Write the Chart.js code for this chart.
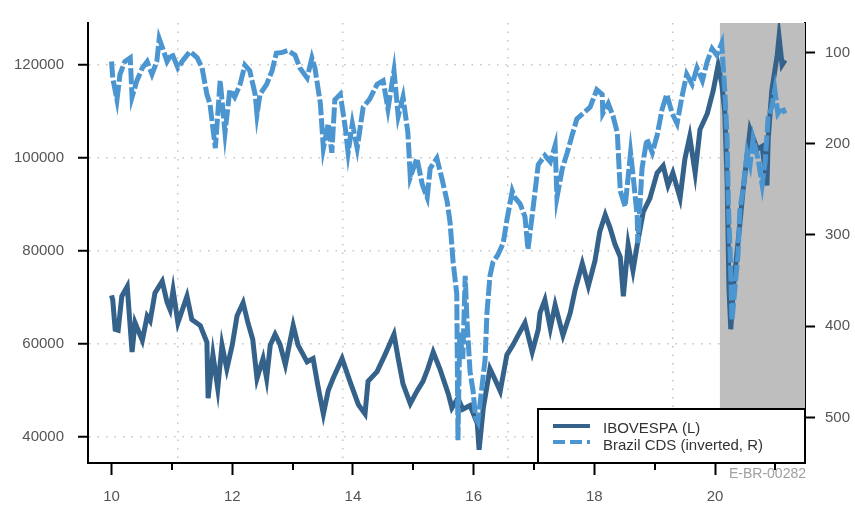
<!DOCTYPE html>
<html>
<head>
<meta charset="utf-8">
<script src="https://cdn.jsdelivr.net/npm/chart.js@4/dist/chart.umd.min.js"></script>
<style>
  html, body { margin: 0; padding: 0; background: #fff; }
  #wrap { width: 855px; height: 505px; position: relative; }
</style>
</head>
<body>
<div id="wrap"><canvas id="chart"></canvas></div>
<script>
// IBOVESPA, left axis (year as fraction, 10 = 2010)
const iboYears = [10.00, 10.02, 10.06, 10.11, 10.17, 10.26, 10.34, 10.39, 10.51, 10.59, 10.64, 10.72, 10.84, 10.92, 10.97,
  11.02, 11.10, 11.25, 11.33, 11.47, 11.58, 11.60, 11.68, 11.76, 11.83, 11.91, 12.00, 12.08, 12.18, 12.26, 12.34, 12.41,
  12.51, 12.57, 12.63, 12.71, 12.79, 12.88, 13.01, 13.09, 13.24, 13.34, 13.42, 13.51, 13.59, 13.67, 13.82, 13.95, 14.09,
  14.20, 14.25, 14.40, 14.53, 14.68, 14.75, 14.83, 14.95, 15.06, 15.16, 15.24, 15.33, 15.44, 15.58, 15.64, 15.74, 15.82,
  15.94, 16.06, 16.09, 16.16, 16.27, 16.35, 16.44, 16.55, 16.65, 16.74, 16.85, 16.97, 17.07, 17.10, 17.18, 17.27, 17.35,
  17.48, 17.60, 17.68, 17.80, 17.90, 18.01, 18.09, 18.18, 18.26, 18.34, 18.43, 18.48, 18.56, 18.64, 18.72, 18.81, 18.92,
  19.04, 19.14, 19.22, 19.30, 19.42, 19.50, 19.58, 19.67, 19.75, 19.87, 19.97, 20.05, 20.11, 20.16, 20.20, 20.23, 20.26,
  20.30, 20.41, 20.46, 20.58, 20.70, 20.78, 20.86, 20.88, 20.94, 21.03, 21.06, 21.11, 21.16];
const iboValues = [70500, 69500, 63200, 63000, 70300, 72400, 58300, 64600, 60800, 66000, 65000, 71000, 73500, 69000, 67400,
  71600, 64600, 70300, 65300, 64000, 60400, 48400, 57700, 50500, 59800, 54700, 59800, 66100, 68900, 64600, 61000, 52600,
  56900, 52600, 59800, 62100, 60000, 55600, 64000, 59800, 56200, 56900, 51000, 45000, 50000, 52600, 56900, 52000, 47000,
  45000, 52000, 54100, 57700, 62100, 56900, 51400, 47200, 49900, 52000, 54700, 58300, 54700, 49300, 46300, 48400, 46000,
  46800, 43000, 37300, 46300, 54700, 52500, 49900, 57700, 59800, 62000, 64600, 58300, 63100, 66700, 69500, 63400, 68400,
  61900, 66700, 71600, 77300, 72500, 77900, 84200, 87800, 85000, 81500, 78700, 70300, 81400, 75800, 82100, 88400, 91300,
  96800, 98300, 94100, 96800, 91400, 99800, 104600, 96800, 106100, 109500, 114500, 119900, 116000, 110000, 95000, 72000, 63200,
  71500, 85700, 92600, 106100, 101900, 102500, 94100, 104000, 114500, 122100, 126000, 120000, 121000];

// Brazil CDS, right axis (inverted)
const cdsYears = [10.00, 10.02, 10.09, 10.14, 10.22, 10.31, 10.34, 10.42, 10.51, 10.59, 10.67, 10.75, 10.79, 10.85, 10.92,
  11.00, 11.10, 11.18, 11.30, 11.42, 11.50, 11.58, 11.63, 11.72, 11.80, 11.88, 11.96, 12.04, 12.13, 12.21, 12.29, 12.38,
  12.41, 12.46, 12.57, 12.66, 12.73, 12.83, 12.92, 13.04, 13.12, 13.24, 13.32, 13.37, 13.46, 13.51, 13.59, 13.65, 13.70,
  13.79, 13.87, 13.92, 13.99, 14.07, 14.17, 14.28, 14.40, 14.50, 14.58, 14.68, 14.75, 14.83, 14.91, 14.95, 15.06, 15.15,
  15.23, 15.28, 15.39, 15.48, 15.56, 15.61, 15.66, 15.72, 15.74, 15.77, 15.82, 15.86, 15.89, 15.94, 15.99, 16.03, 16.07,
  16.14, 16.19, 16.22, 16.27, 16.32, 16.40, 16.49, 16.55, 16.64, 16.68, 16.77, 16.85, 16.90, 16.98, 17.07, 17.18, 17.27,
  17.35, 17.38, 17.47, 17.55, 17.63, 17.71, 17.81, 17.93, 18.04, 18.13, 18.14, 18.23, 18.31, 18.38, 18.43, 18.51, 18.60,
  18.64, 18.71, 18.72, 18.79, 18.87, 18.96, 19.04, 19.12, 19.20, 19.29, 19.37, 19.45, 19.53, 19.62, 19.70, 19.79, 19.87,
  19.95, 20.03, 20.11, 20.16, 20.20, 20.22, 20.25, 20.28, 20.33, 20.38, 20.41, 20.46, 20.53, 20.58, 20.63, 20.71, 20.78,
  20.83, 20.88, 20.94, 20.99, 21.04, 21.11, 21.16];
const cdsValues = [110, 128, 152, 124, 110, 106, 149, 131, 117, 110, 124, 110, 85, 96, 110,
  101, 117, 109, 99, 106, 117, 146, 156, 205, 131, 188, 141, 149, 135, 114, 120, 146,
  168, 146, 135, 120, 101, 100, 98, 103, 117, 128, 106, 117, 156, 205, 178, 210, 152,
  146, 181, 210, 178, 205, 160, 151, 135, 131, 162, 120, 170, 149, 188, 237, 216, 245,
  259, 227, 216, 240, 263, 287, 330, 365, 525, 407, 436, 345, 394, 450, 471, 500, 505,
  465, 436, 386, 345, 330, 322, 309, 284, 252, 259, 266, 280, 316, 273, 223, 213, 220,
  202, 259, 227, 210, 191, 173, 167, 160, 141, 146, 167, 156, 170, 188, 252, 269, 210,
  234, 280, 309, 227, 195, 210, 191, 163, 146, 167, 178, 149, 124, 135, 117, 131, 110,
  96, 103, 90, 141, 195, 266, 319, 394, 358, 322, 273, 252, 210, 223, 195, 216, 245,
  220, 170, 160, 141, 167, 160, 167];

const seriesLabels = ['IBOVESPA (L)', 'Brazil CDS (inverted, R)'];
const leftTicks = [40000, 60000, 80000, 100000, 120000];
const rightTicks = [100, 200, 300, 400, 500];
const xTicks = [10, 11, 12, 13, 14, 15, 16, 17, 18, 19, 20, 21];
const vGridYears = [11.09, 13.83, 16.56, 19.30];
const shadeFrom = 20.08;
const sourceNote = 'E-BR-00282';

const darkBlue = '#34628a';
const lightBlue = '#4b95d0';
const fontFamily = '"Liberation Sans", Arial, sans-serif';
const tickFont = { family: fontFamily, size: 15 };
const tickColor = '#555';
const dotColor = '#c4c4c4';

Chart.defaults.font.family = fontFamily;

const extras = {
  id: 'extras',
  beforeDatasetsDraw(chart) {
    const { ctx, chartArea, scales } = chart;
    const x0 = scales.x.getPixelForValue(shadeFrom);
    ctx.save();
    ctx.fillStyle = '#bebebe';
    ctx.fillRect(x0, chartArea.top, chartArea.right - x0, chartArea.bottom - chartArea.top);
    ctx.restore();
  },
  afterDraw(chart) {
    const { ctx, chartArea, scales } = chart;
    ctx.save();
    // minor ticks on odd years
    ctx.strokeStyle = '#000';
    ctx.lineWidth = 2;
    xTicks.filter(v => v % 2 !== 0).forEach(v => {
      const px = Math.round(scales.x.getPixelForValue(v));
      ctx.beginPath();
      ctx.moveTo(px, chartArea.bottom);
      ctx.lineTo(px, chartArea.bottom + 7);
      ctx.stroke();
    });

    // legend box
    const bw = 267, bh = 54;
    const bx = chartArea.right - bw, by = chartArea.bottom - bh;
    ctx.fillStyle = '#fff';
    ctx.fillRect(bx, by, bw, bh);
    ctx.strokeStyle = '#000';
    ctx.lineWidth = 2;
    ctx.strokeRect(bx, by, bw, bh);

    ctx.lineWidth = 4;
    ctx.strokeStyle = darkBlue;
    ctx.beginPath();
    ctx.moveTo(bx + 15, by + 17);
    ctx.lineTo(bx + 52, by + 17);
    ctx.stroke();
    ctx.strokeStyle = lightBlue;
    ctx.setLineDash([12, 5]);
    ctx.beginPath();
    ctx.moveTo(bx + 15, by + 33);
    ctx.lineTo(bx + 52, by + 33);
    ctx.stroke();
    ctx.setLineDash([]);

    ctx.fillStyle = '#333';
    ctx.font = '15px ' + fontFamily;
    ctx.textAlign = 'left';
    ctx.textBaseline = 'middle';
    ctx.fillText(seriesLabels[0], bx + 65, by + 20);
    ctx.fillText(seriesLabels[1], bx + 65, by + 37);

    // source note
    ctx.fillStyle = '#a0a0a0';
    ctx.font = '14px ' + fontFamily;
    ctx.textAlign = 'right';
    ctx.textBaseline = 'alphabetic';
    ctx.fillText(sourceNote, chartArea.right + 1, chartArea.bottom + 15);
    ctx.restore();
  }
};

new Chart(document.getElementById('chart'), {
  type: 'line',
  data: {
    datasets: [{
      label: seriesLabels[0],
      data: iboYears.map((x, i) => ({ x: x, y: iboValues[i] })),
      xAxisID: 'x',
      yAxisID: 'y',
      borderColor: darkBlue,
      borderWidth: 5,
      pointRadius: 0,
      tension: 0,
      order: 1
    }, {
      label: seriesLabels[1],
      data: cdsYears.map((x, i) => ({ x: x, y: cdsValues[i] })),
      xAxisID: 'x',
      yAxisID: 'y2',
      borderColor: lightBlue,
      borderWidth: 5,
      borderDash: [16, 3],
      pointRadius: 0,
      tension: 0,
      order: 0
    }]
  },
  options: {
    responsive: true,
    maintainAspectRatio: false,
    animation: false,
    devicePixelRatio: 1,
    layout: { padding: { top: 13 } },
    plugins: {
      legend: { display: false },
      tooltip: { enabled: false }
    },
    scales: {
      x: {
        type: 'linear',
        position: 'bottom',
        min: 9.61,
        max: 21.49,
        afterBuildTicks: s => { s.ticks = xTicks.map(v => ({ value: v })); },
        afterFit: s => { s.height = 42; },
        ticks: {
          autoSkip: false,
          maxRotation: 0,
          padding: 13,
          font: tickFont,
          color: tickColor,
          callback: v => (v % 2 === 0 ? String(v) : '')
        },
        grid: {
          drawOnChartArea: false,
          tickLength: 12,
          tickWidth: 2,
          tickColor: c => (c.tick && c.tick.value % 2 === 0 ? '#000' : 'rgba(0,0,0,0)')
        },
        border: { color: '#000', width: 2 }
      },
      xg: {
        type: 'linear',
        position: 'top',
        min: 9.61,
        max: 21.49,
        afterBuildTicks: s => { s.ticks = vGridYears.map(v => ({ value: v })); },
        afterFit: s => { s.height = 0; },
        ticks: { display: false },
        grid: { drawTicks: false, color: dotColor, lineWidth: 1.5 },
        border: { display: false, dash: [1.5, 7] }
      },
      y: {
        position: 'left',
        min: 34460,
        max: 129000,
        afterBuildTicks: s => { s.ticks = leftTicks.map(v => ({ value: v })); },
        afterFit: s => { s.width = 88; },
        ticks: { padding: 14, font: tickFont, color: tickColor, callback: v => String(v) },
        grid: { color: dotColor, lineWidth: 1.5, tickLength: 10, tickWidth: 2, tickColor: '#000' },
        border: { color: '#000', width: 2, dash: [1.5, 7] }
      },
      y2: {
        position: 'right',
        reverse: true,
        min: 67.8,
        max: 550,
        afterBuildTicks: s => { s.ticks = rightTicks.map(v => ({ value: v })); },
        afterFit: s => { s.width = 50; },
        ticks: { padding: 10, font: tickFont, color: tickColor, callback: v => String(v) },
        grid: { drawOnChartArea: false, tickLength: 10, tickWidth: 2, tickColor: '#000' },
        border: { color: '#000', width: 2 }
      }
    }
  },
  plugins: [extras]
});
</script>
</body>
</html>
